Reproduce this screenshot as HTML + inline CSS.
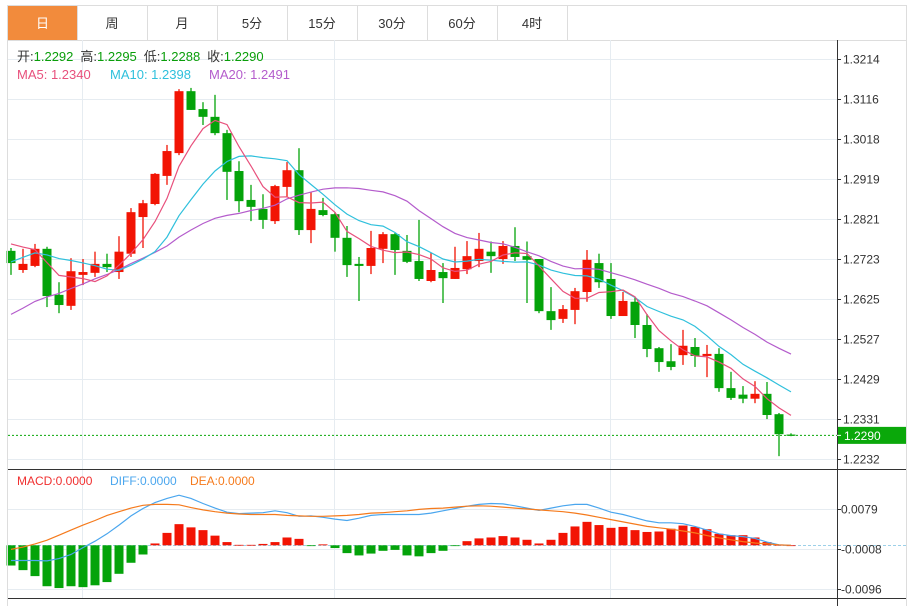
<!DOCTYPE html>
<html><head><meta charset="utf-8">
<style>
body{margin:0;background:#fff;width:913px;height:606px;overflow:hidden;font-family:"Liberation Sans","Noto Sans CJK SC",sans-serif;}
svg text{font-family:"Liberation Sans","Noto Sans CJK SC",sans-serif;}
</style></head>
<body>
<svg id="chart" width="913" height="606" viewBox="0 0 913 606" xmlns="http://www.w3.org/2000/svg">
<g id="tabs"></g>
<g id="grid"></g>
<g id="main"></g>
<g id="macd"></g>
<g id="axes"></g>
<g id="legend">
<text x="17" y="61" font-size="13"><tspan fill="#333">开:</tspan><tspan fill="#0a9e0a">1.2292</tspan><tspan fill="#333" dx="7">高:</tspan><tspan fill="#0a9e0a">1.2295</tspan><tspan fill="#333" dx="7">低:</tspan><tspan fill="#0a9e0a">1.2288</tspan><tspan fill="#333" dx="7">收:</tspan><tspan fill="#0a9e0a">1.2290</tspan></text>
<text x="17" y="79" font-size="13" fill="#e8507c">MA5: 1.2340</text>
<text x="110" y="79" font-size="13" fill="#2fc0dc">MA10: 1.2398</text>
<text x="209" y="79" font-size="13" fill="#b45ccc">MA20: 1.2491</text>
<text x="17" y="485" font-size="12" fill="#f03030">MACD:0.0000</text>
<text x="110" y="485" font-size="12" fill="#4aa6ee">DIFF:0.0000</text>
<text x="190" y="485" font-size="12" fill="#f57a1c">DEA:0.0000</text>
</g>
</svg>
<script>
const priorCloses=[1.2400,1.2420,1.2410,1.2440,1.2450,1.2470,1.2460,1.2490,1.2500,1.2540,1.2600,1.2640,1.2680,1.2700,1.2740,1.2750,1.2780,1.2790,1.2767];
const opens=[1.2743,1.2696,1.2706,1.2748,1.2635,1.2608,1.2684,1.2689,1.2711,1.2691,1.2736,1.2826,1.2858,1.2927,1.2983,1.3135,1.3091,1.3072,1.3032,1.2939,1.2868,1.2846,1.2816,1.2900,1.2941,1.2794,1.2843,1.2833,1.2775,1.2711,1.2706,1.2748,1.2784,1.2743,1.2718,1.2669,1.2691,1.2674,1.2698,1.2718,1.2741,1.2723,1.2755,1.2730,1.2723,1.2595,1.2576,1.2598,1.2642,1.2713,1.2674,1.2583,1.2618,1.2561,1.2504,1.2472,1.2487,1.2507,1.2485,1.2490,1.2406,1.2390,1.2380,1.2392,1.2342,1.2292];
const highs=[1.2750,1.2748,1.2760,1.2753,1.2666,1.2725,1.2723,1.2741,1.2736,1.2779,1.2848,1.2868,1.2934,1.3003,1.3140,1.3143,1.3108,1.3126,1.3040,1.2963,1.2905,1.2882,1.2905,1.2961,1.2995,1.2887,1.2873,1.2838,1.2804,1.2728,1.2792,1.2789,1.2787,1.2782,1.2819,1.2738,1.2713,1.2753,1.2767,1.2787,1.2766,1.2767,1.2801,1.2766,1.2723,1.2654,1.2610,1.2652,1.2745,1.2736,1.2713,1.2642,1.2630,1.2588,1.2507,1.2514,1.2549,1.2529,1.2512,1.2504,1.2446,1.2411,1.2423,1.2421,1.2345,1.2295];
const lows=[1.2684,1.2689,1.2703,1.2605,1.2590,1.2598,1.2659,1.2679,1.2691,1.2674,1.2728,1.2750,1.2855,1.2905,1.2978,1.3089,1.3052,1.3027,1.2868,1.2838,1.2816,1.2797,1.2809,1.2875,1.2782,1.2762,1.2828,1.2741,1.2679,1.2620,1.2686,1.2713,1.2684,1.2713,1.2669,1.2666,1.2615,1.2674,1.2686,1.2703,1.2689,1.2711,1.2718,1.2615,1.2590,1.2549,1.2566,1.2563,1.2618,1.2652,1.2576,1.2583,1.2529,1.2482,1.2446,1.2450,1.2463,1.2458,1.2433,1.2397,1.2377,1.2369,1.2369,1.2330,1.2239,1.2288];
const closes=[1.2713,1.2711,1.2748,1.2632,1.2610,1.2693,1.2691,1.2711,1.2703,1.2741,1.2838,1.2860,1.2932,1.2988,1.3135,1.3089,1.3072,1.3032,1.2937,1.2865,1.2851,1.2819,1.2902,1.2941,1.2794,1.2846,1.2831,1.2775,1.2708,1.2706,1.2750,1.2784,1.2745,1.2716,1.2674,1.2696,1.2676,1.2701,1.2730,1.2748,1.2730,1.2755,1.2728,1.2721,1.2595,1.2573,1.2600,1.2644,1.2721,1.2666,1.2583,1.2620,1.2561,1.2502,1.2470,1.2458,1.2510,1.2485,1.2490,1.2406,1.2382,1.2380,1.2392,1.2340,1.2293,1.2290];
const macdHist=[-0.0044,-0.0054,-0.0067,-0.0089,-0.0093,-0.0089,-0.0091,-0.0087,-0.0080,-0.0062,-0.0038,-0.0020,0.0004,0.0027,0.0046,0.0039,0.0033,0.0021,0.0007,0.0001,0.0001,0.0003,0.0007,0.0017,0.0014,-0.0001,0.0002,-0.0006,-0.0017,-0.0022,-0.0018,-0.0012,-0.0010,-0.0022,-0.0024,-0.0017,-0.0012,-0.0001,0.0009,0.0015,0.0017,0.0020,0.0017,0.0012,0.0004,0.0012,0.0027,0.0041,0.0051,0.0044,0.0038,0.0040,0.0033,0.0029,0.0030,0.0036,0.0043,0.0040,0.0035,0.0025,0.0022,0.0022,0.0017,0.0007,0.0001,0.0000];
const diffLine=[-0.0033,-0.0033,-0.0033,-0.0034,-0.0029,-0.0020,-0.0005,0.0009,0.0025,0.0044,0.0064,0.0080,0.0093,0.0102,0.0109,0.0102,0.0091,0.0081,0.0072,0.0069,0.0070,0.0071,0.0075,0.0071,0.0063,0.0064,0.0061,0.0057,0.0054,0.0059,0.0065,0.0067,0.0067,0.0067,0.0067,0.0070,0.0075,0.0080,0.0085,0.0089,0.0091,0.0090,0.0086,0.0081,0.0076,0.0081,0.0086,0.0089,0.0089,0.0081,0.0072,0.0067,0.0060,0.0053,0.0049,0.0049,0.0047,0.0041,0.0033,0.0025,0.0021,0.0019,0.0015,0.0007,0.0001,0.0000];
const deaLine=[-0.0009,-0.0004,0.0003,0.0011,0.0022,0.0033,0.0044,0.0054,0.0065,0.0073,0.0081,0.0087,0.0089,0.0089,0.0088,0.0082,0.0077,0.0073,0.0070,0.0068,0.0067,0.0067,0.0067,0.0065,0.0064,0.0063,0.0063,0.0064,0.0065,0.0067,0.0070,0.0071,0.0073,0.0075,0.0078,0.0080,0.0081,0.0083,0.0085,0.0086,0.0085,0.0083,0.0081,0.0079,0.0077,0.0075,0.0073,0.0070,0.0066,0.0061,0.0056,0.0051,0.0046,0.0041,0.0038,0.0035,0.0031,0.0027,0.0021,0.0016,0.0012,0.0008,0.0005,0.0003,0.0001,0.0000];
const priceTicks=["1.3214","1.3116","1.3018","1.2919","1.2821","1.2723","1.2625","1.2527","1.2429","1.2331","1.2232"];
const macdTicks=["0.0079","-0.0008","-0.0096"];
const tabLabels=["日","周","月","5分","15分","30分","60分","4时"];
const lastPrice=1.2290;

const NS="http://www.w3.org/2000/svg";
function mk(parent,tag,attrs){const e=document.createElementNS(NS,tag);for(const k in attrs)e.setAttribute(k,attrs[k]);parent.appendChild(e);return e;}
const xOf=i=>11+12*i;
const yP=p=>59+(1.3214-p)*(400/0.0982);
const yM=v=>545.3-v*4598;
const RED="#f21404",GREEN="#04a30a";

// tabs
const tabs=document.getElementById('tabs');
let r=mk(tabs,'rect',{x:7.5,y:5.5,width:899,height:35,fill:'#fff',stroke:'#ddd'});


tabLabels.forEach((t,i)=>{
  const x0=i===0?8:77+(i-1)*70, w=i===0?69:70;
  const g=mk(tabs,'g',{});
  
  
  if(i===0) mk(g,'rect',{x:x0,y:6,width:w,height:34,fill:'#f28b3c'});
  mk(g,'line',{x1:x0+w+0.5,y1:6,x2:x0+w+0.5,y2:40,stroke:'#ddd'});
  const tx=mk(g,'text',{x:x0+w/2,y:28,'font-size':13,'text-anchor':'middle',fill:i===0?'#fff':'#333'});
  tx.textContent=t;
});
// frame
const axes=document.getElementById('axes');
mk(axes,'line',{x1:7.5,y1:40,x2:7.5,y2:606,stroke:'#ddd'});
mk(axes,'line',{x1:906.5,y1:40,x2:906.5,y2:606,stroke:'#ddd'});
// grid
const grid=document.getElementById('grid');
priceTicks.forEach(t=>{const y=Math.round(yP(parseFloat(t)))+0.5;mk(grid,'line',{x1:8,y1:y,x2:837,y2:y,stroke:'#e6ecf1'});});
macdTicks.forEach(t=>{const y=Math.round(yM(parseFloat(t)))+0.5;mk(grid,'line',{x1:8,y1:y,x2:837,y2:y,stroke:'#e6ecf1'});});
[82,334,610].forEach(x=>mk(grid,'line',{x1:x+0.5,y1:40,x2:x+0.5,y2:598,stroke:'#e6ecf1'}));

// main candles
const main=document.getElementById('main');
closes.forEach((c,i)=>{
  const o=opens[i],up=c>=o,col=up?RED:GREEN,x=xOf(i);
  const g=mk(main,'g',{});
  
  
  mk(g,'line',{x1:x,y1:yP(highs[i]),x2:x,y2:yP(lows[i]),stroke:col,'stroke-width':1.3});
  const t=yP(Math.max(o,c)),b=yP(Math.min(o,c));
  mk(g,'rect',{x:x-4.5,y:t,width:9,height:Math.max(1.2,b-t),fill:col});
});
const all=priorCloses.concat(closes);
function ma(n,col,name){
  const pts=closes.map((c,i)=>{const k=i+priorCloses.length;let s=0;for(let j=k-n+1;j<=k;j++)s+=all[j];return xOf(i)+','+yP(s/n).toFixed(1);});
  const p=mk(main,'polyline',{points:pts.join(' '),fill:'none',stroke:col,'stroke-width':1.2});
  
  
}
ma(20,'#b45ccc','ma20-line');ma(10,'#2fc0dc','ma10-line');ma(5,'#e8507c','ma5-line');
const ly=yP(lastPrice);
const lpl=mk(main,'line',{x1:8,y1:ly,x2:837,y2:ly,stroke:'#0aa80a','stroke-dasharray':'2,2'});



// macd
const macd=document.getElementById('macd');
const zl=mk(macd,'line',{x1:8,y1:545.5,x2:906,y2:545.5,stroke:'#9cd0e8','stroke-dasharray':'3,2'});


macdHist.forEach((v,i)=>{
  const y0=yM(0),y1=yM(v);
  const b=mk(macd,'rect',{x:xOf(i)-4.5,y:Math.min(y0,y1),width:9,height:Math.max(0.8,Math.abs(y1-y0)),fill:v>=0?RED:GREEN});
  
  
});
[[diffLine,'#4aa6ee','diff-line'],[deaLine,'#f57a1c','dea-line']].forEach(([arr,col,name])=>{
  const p=mk(macd,'polyline',{points:arr.map((v,i)=>xOf(i)+','+yM(v).toFixed(1)).join(' '),fill:'none',stroke:col,'stroke-width':1.2});
  
  
});

// axes
mk(axes,'line',{x1:837.5,y1:40,x2:837.5,y2:606,stroke:'#333'});
mk(axes,'line',{x1:8,y1:469.5,x2:906,y2:469.5,stroke:'#333'});
mk(axes,'line',{x1:8,y1:598.5,x2:906,y2:598.5,stroke:'#333'});
priceTicks.forEach(t=>{
  const y=Math.round(yP(parseFloat(t)))+0.5;
  mk(axes,'line',{x1:837,y1:y,x2:841,y2:y,stroke:'#333'});
  const tx=mk(axes,'text',{x:843,y:y+4,'font-size':12,fill:'#333'});
  
  
  tx.textContent=t;
});
macdTicks.forEach(t=>{
  const y=Math.round(yM(parseFloat(t)))+0.5;
  mk(axes,'line',{x1:837,y1:y,x2:841,y2:y,stroke:'#333'});
  const tx=mk(axes,'text',{x:841,y:y+4,'font-size':12,fill:'#333'});
  
  
  tx.textContent=t;
});
const box=mk(axes,'rect',{x:838,y:ly-8.5,width:68,height:17,fill:'#0aa80a'});


mk(axes,'line',{x1:837,y1:ly,x2:841,y2:ly,stroke:'#fff'});
const lt=mk(axes,'text',{x:844,y:ly+4.5,'font-size':12,fill:'#fff'});
lt.textContent=lastPrice.toFixed(4);
</script>
</body></html>
